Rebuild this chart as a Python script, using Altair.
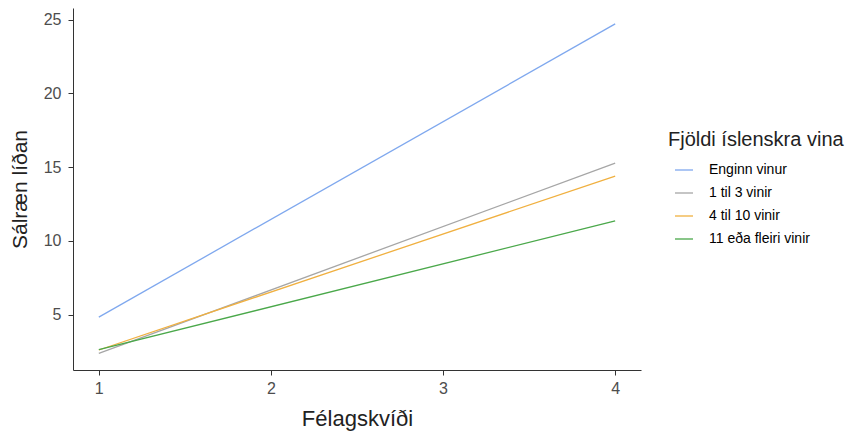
import altair as alt
import pandas as pd

groups = ["Enginn vinur", "1 til 3 vinir", "4 til 10 vinir", "11 eða fleiri vinir"]
colors = ["#7FA8EE", "#A6A6A6", "#F0B040", "#4AA84A"]
x_vals = [1, 4]
y_start = [4.83, 2.37, 2.6, 2.62]
y_end = [24.7, 15.27, 14.39, 11.35]

rows = []
for g, a, b in zip(groups, y_start, y_end):
    rows.append({"grp": g, "x": x_vals[0], "y": a})
    rows.append({"grp": g, "x": x_vals[1], "y": b})
df = pd.DataFrame(rows)

font = "Liberation Sans"

chart = alt.Chart(df).mark_line(strokeWidth=1.3).encode(
    x=alt.X("x:Q", title="Félagskvíði",
            scale=alt.Scale(domain=[0.85, 4.15], nice=False, zero=False),
            axis=alt.Axis(values=[1, 2, 3, 4], format="d", grid=False,
                          domainColor="#333333", tickColor="#333333", tickSize=5,
                          labelFontSize=16, labelColor="#4d4d4d", labelPadding=5,
                          titleFontSize=22, titleFontWeight="normal", titleColor="#222222",
                          titlePadding=12, labelFont=font, titleFont=font)),
    y=alt.Y("y:Q", title="Sálræn líðan",
            scale=alt.Scale(domain=[1.245, 25.78], nice=False, zero=False),
            axis=alt.Axis(values=[5, 10, 15, 20, 25], grid=False,
                          domainColor="#333333", tickColor="#333333", tickSize=5,
                          labelFontSize=16, labelColor="#4d4d4d", labelPadding=7,
                          titleFontSize=21, titleFontWeight="normal", titleColor="#222222",
                          titlePadding=13, labelFont=font, titleFont=font)),
    color=alt.Color("grp:N", sort=groups,
                    scale=alt.Scale(domain=groups, range=colors),
                    legend=alt.Legend(title="Fjöldi íslenskra vina", orient="none",
                                      legendX=595, legendY=122,
                                      titleFontSize=20, titleFontWeight="normal",
                                      titleColor="#222222", titleFont=font,
                                      titlePadding=10, titleLimit=400,
                                      labelFontSize=14, labelColor="#000000", labelFont=font,
                                      labelLimit=300,
                                      symbolType="stroke", symbolSize=324,
                                      symbolStrokeWidth=1.3, symbolOffset=6,
                                      labelOffset=15, rowPadding=6)),
).properties(
    width=568, height=362,
    autosize=alt.AutoSizeParams(type="none"),
    padding={"left": 65, "top": 0, "right": 211, "bottom": 62},
).configure_view(stroke=None)

chart.save("out.html", embed_options={"renderer": "svg", "actions": False})
